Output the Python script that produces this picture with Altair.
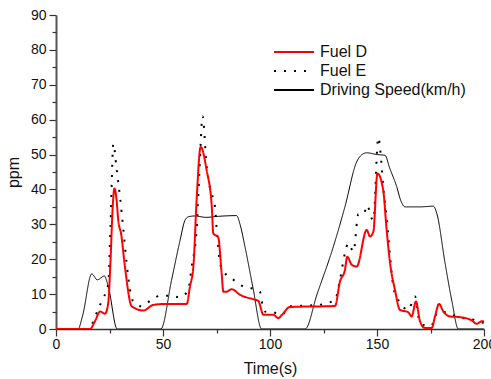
import altair as alt
import pandas as pd

speed_t = [0, 10.3, 12.5, 16.7, 19.3, 22.6, 24.5, 28.6, 49, 54, 58, 60.3, 62, 65, 70, 76, 84.4, 86, 88.3, 92, 96.1,
           116.4, 122, 129.6, 135, 140.5, 143, 145.2, 150, 153.7, 156, 159.2, 161, 163.1, 170, 176.3, 178, 181.8, 185, 188, 200]
speed_v = [0, 0, 4, 15.8, 14.1, 15.2, 12, 0, 0, 14, 25.5, 31.2, 32.2, 32.4, 32, 32.3, 32.5, 30, 23.6, 12, 0,
           0, 10, 23.6, 35, 47.9, 50, 50.5, 50, 49.8, 46, 40.8, 37, 35, 35, 35.2, 33, 18.9, 8, 0, 0]

fuel_d_t = [0, 15.9, 18.2, 20.6, 22.9, 24.4, 25.5, 26.5, 27.3, 28.3, 29.1, 30.5, 32.2, 35.4, 40.8, 45.5, 51.7, 61.1, 62.6,
            64.2, 65.7, 67.6, 70.4, 72.8, 73.5, 75.8, 77.4, 78.2, 79.7, 82.1, 86, 93, 94.5, 96.9, 101.5, 103.9, 105.5,
            109.3, 130.4, 132.7, 135, 136.1, 138.2, 140.5, 145.2, 146.7, 148.3, 150.2, 152.9, 154.5, 156.1, 158.4,
            160.7, 164.6, 166.2, 168.2, 170.1, 172.4, 175.6, 177.1, 179, 181, 184.1, 188.8, 194.2, 196.6, 198.9, 200]
fuel_d_v = [0, 0, 2.2, 5, 4.4, 7.4, 20, 35, 40.3, 37, 31.2, 27, 17.9, 6.5, 5.3, 6.9, 7.2, 7.2, 12.2,
            17.9, 36.9, 52.2, 45.5, 35, 27.4, 26.3, 16, 10.7, 10.7, 11.4, 9.8, 8.4, 8.1, 4.1, 4.1, 3.1, 4,
            6.3, 6.6, 13.6, 16.9, 20.7, 18.4, 17.9, 28.4, 26.5, 27.9, 44.6, 39.8, 28.4, 18.9, 11.2,
            5.5, 4.8, 3.6, 7.9, 2.2, 0.3, 0.3, 3.6, 7.2, 5, 3.6, 3.4, 2.5, 1.5, 2.2, 2.2]

fuel_e_t = [0, 16, 17.4, 20.6, 22.1, 24.4, 25.5, 26.8, 28.3, 29.9, 31.5, 33, 34.6, 36.1, 40, 44.7, 48.6, 53.3, 57.9,
            61.8, 63.4, 65.7, 67, 68.5, 70.4, 72, 74.3, 75, 75.8, 76.6, 79, 82.9, 87.5, 91.4, 95.3, 96, 97.7, 101.5,
            105.5, 109.3, 122.6, 130.4, 132.7, 135, 136.6, 139, 141.3, 143.6, 145.6, 146.7, 148.3, 150.6, 152.2,
            152.9, 154.5, 156.1, 157.6, 159.2, 161.5, 164.6, 167.8, 169.3, 171.6, 174.8, 177.1, 178.7, 181, 184.9,
            188.8, 193.5, 198.1, 200]
fuel_e_v = [0, 0, 2.2, 6.9, 8.9, 12.7, 30, 53.1, 46, 37.9, 28.4, 18.9, 11.2, 7.9, 6.5, 8.4, 9.5, 9.5, 9.1,
            11.2, 17.9, 28.4, 45, 61, 46.5, 40.3, 35, 29.3, 23.6, 18.9, 16, 14.1, 12.2, 11.7, 10.7, 8.4, 5, 4.8,
            4.1, 6.5, 6.9, 8.4, 14.1, 21.7, 24.6, 22.2, 32.9, 32.9, 35.5, 33, 31.2, 54.9, 46.5,
            40.8, 32.2, 20.7, 12.2, 9.3, 6.9, 5.5, 9.3, 3.6, 1.2, 0.8, 3.1, 6.9, 5, 4.3,
            3.1, 3, 1.9, 1.8]

series_names = ["Fuel D", "Fuel E", "Driving Speed(km/h)"]
x_major = [0, 50, 100, 150, 200]
x_minor = [25, 75, 125, 175]
y_major = [0, 10, 20, 30, 40, 50, 60, 70, 80, 90]
y_minor = [5, 15, 25, 35, 45, 55, 65, 75, 85]

rows = []
for t, v in zip(speed_t, speed_v):
    rows.append({"t": t, "v": v, "series": series_names[2], "ord": 0, "sw": 1})
for t, v in zip(fuel_e_t, fuel_e_v):
    rows.append({"t": t, "v": v, "series": series_names[1], "ord": 1, "sw": 2})
for t, v in zip(fuel_d_t, fuel_d_v):
    rows.append({"t": t, "v": v, "series": series_names[0], "ord": 2, "sw": 2})
df = pd.DataFrame(rows)

FONT = "Liberation Sans"
xs = alt.Scale(domain=[0, 200], nice=False, zero=False)
ys = alt.Scale(domain=[0, 90], nice=False, zero=False)

leg = alt.Legend(title=None, orient="none", legendX=227, legendY=26,
                 symbolType="M-2,0H2", symbolSize=400, labelFontSize=16,
                 labelFont=FONT, labelColor="#111", labelOffset=15, rowPadding=0,
                 symbolStrokeWidth=2)

main = alt.Chart(df).mark_line(clip=True, strokeCap="butt", interpolate="monotone").encode(
    x=alt.X("t:Q", scale=xs, title="Time(s)",
            axis=alt.Axis(values=x_major, grid=False, tickSize=7, labelPadding=1,
                          labelFontSize=14, titleFontSize=16, titlePadding=9,
                          domainColor="#333", tickColor="#333", domainWidth=1.5, tickWidth=1.2,
                          labelColor="#111", titleColor="#111", labelFont=FONT, titleFont=FONT,
                          titleFontWeight="normal", labelFlush=False)),
    y=alt.Y("v:Q", scale=ys, title="ppm",
            axis=alt.Axis(values=y_major, grid=False, tickSize=7, labelPadding=3,
                          labelFontSize=14, titleFontSize=16, titlePadding=9,
                          domainColor="#555", tickColor="#333", domainWidth=2, tickWidth=1.2,
                          labelColor="#111", titleColor="#111", labelFont=FONT, titleFont=FONT,
                          titleFontWeight="normal", labelFlush=False)),
    color=alt.Color("series:N", scale=alt.Scale(domain=series_names, range=["#ff0000", "#000000", "#000000"]),
                    legend=leg),
    strokeDash=alt.StrokeDash("series:N", scale=alt.Scale(domain=series_names, range=[[1, 0], [2, 8], [1, 0]]),
                              legend=leg),
    strokeWidth=alt.StrokeWidth("sw:Q", scale=None, legend=None),
    order=alt.Order("t:Q"),
    detail="ord:N",
)

minor = alt.Chart(df).mark_point(opacity=0).encode(
    x=alt.X("t:Q", scale=xs, title=None,
            axis=alt.Axis(values=x_minor, grid=False, labels=False, domain=False, tickSize=4,
                          tickColor="#333", tickWidth=1.2, orient="bottom")),
    y=alt.Y("v:Q", scale=ys, title=None,
            axis=alt.Axis(values=y_minor, grid=False, labels=False, domain=False, tickSize=4,
                          tickColor="#333", tickWidth=1.2, orient="left")),
)

chart = alt.layer(main, minor).resolve_scale(x="independent", y="independent").properties(
    width=428, height=314,
    autosize=alt.AutoSizeParams(type="none"),
    padding={"left": 56, "top": 15, "right": 7, "bottom": 50},
).configure_view(stroke=None)

chart.save("out.html", embed_options={"renderer": "svg", "actions": False})
